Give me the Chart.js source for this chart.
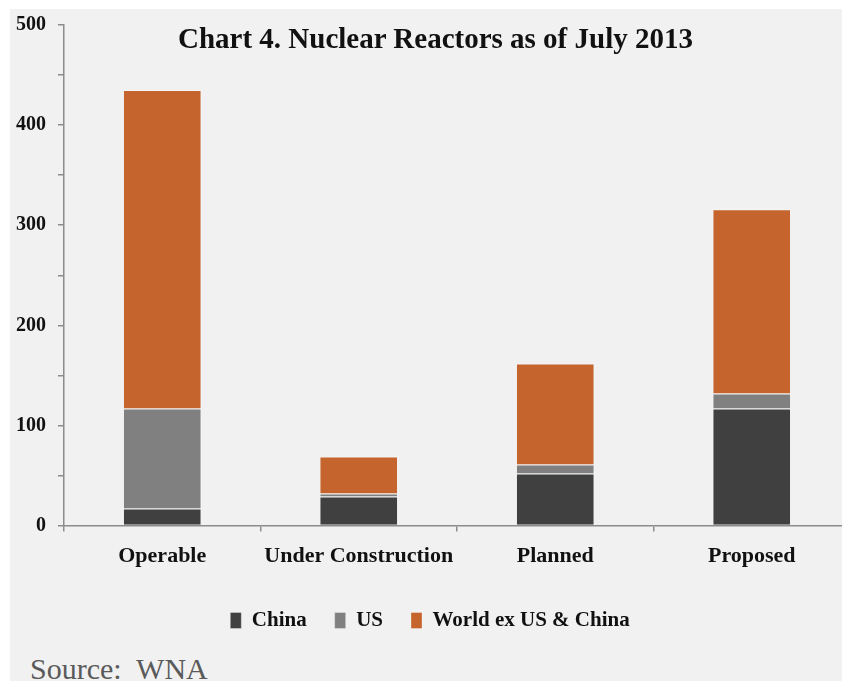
<!DOCTYPE html>
<html>
<head>
<meta charset="utf-8">
<script src="https://cdn.jsdelivr.net/npm/chart.js@4"></script>
<style>
  html, body { margin: 0; padding: 0; background: #fff; width: 842px; height: 681px; overflow: hidden; }
  #panel { position: absolute; left: 10px; top: 9px; width: 832px; height: 672px; background: #f1f1f1; overflow: hidden; }
  #wrap { position: absolute; left: 0; top: -8px; width: 840px; height: 644px; }
  #title { position: absolute; left: 168px; top: 13px; font: bold 29px "Liberation Serif", "Times New Roman", serif; color: #111; white-space: nowrap; }
  #source { position: absolute; left: 20px; top: 643px; font: 30px "Liberation Serif", "Times New Roman", serif; color: #5a5a5a; white-space: nowrap; }
</style>
</head>
<body>
<div id="panel">
  <div id="wrap"><canvas id="myChart"></canvas></div>
  <div id="title">Chart 4. Nuclear Reactors as of July 2013</div>
  <div id="source">Source:&nbsp; WNA</div>
</div>
<script>
// Dados
var categories = ['Operable', 'Under Construction', 'Planned', 'Proposed']
var china = [17, 29, 52, 117]
var us = [100, 3, 9, 15]
var worldExUsChina = [318, 37, 101, 184]
var yTicks = [0, 100, 200, 300, 400, 500]

var serif = '"Liberation Serif", "Times New Roman", serif'

var ctx = document.getElementById('myChart').getContext('2d');
var myChart = new Chart(ctx, {
    type: 'bar',
    data: {
        labels: categories,
        datasets: [
            { label: 'China', data: china, backgroundColor: '#404040', borderColor: 'rgba(255,255,255,0.3)', borderWidth: 1 },
            { label: 'US', data: us, backgroundColor: '#808080', borderColor: 'rgba(255,255,255,0.3)', borderWidth: 1 },
            { label: 'World ex US & China', data: worldExUsChina, backgroundColor: '#c5652d', borderColor: 'rgba(255,255,255,0.3)', borderWidth: 1 }
        ]
    },
    options: {
        responsive: true,
        maintainAspectRatio: false,
        animation: false,
        layout: { padding: { top: 6, bottom: 4, left: 0, right: 0 } },
        datasets: { bar: { barPercentage: 0.4, categoryPercentage: 1 } },
        plugins: {
            tooltip: { enabled: false },
            legend: {
                position: 'bottom',
                labels: {
                    boxWidth: 11,
                    boxHeight: 16,
                    padding: 28,
                    color: '#111',
                    font: { family: serif, size: 21, weight: 'bold' }
                }
            }
        },
        scales: {
            x: {
                stacked: true,
                border: { color: '#8c8c8c', width: 1.5 },
                grid: { drawOnChartArea: false, tickLength: 6, color: '#8c8c8c', lineWidth: 1.5 },
                ticks: { color: '#111', padding: 12, font: { family: serif, size: 22, weight: 'bold' } }
            },
            y: {
                stacked: true,
                min: 0,
                max: 500,
                afterFit: function (scale) { scale.width = 54 },
                border: { color: '#8c8c8c', width: 1.5 },
                grid: { drawOnChartArea: false, tickLength: 6, color: '#8c8c8c', lineWidth: 1.5 },
                ticks: {
                    stepSize: 50,
                    padding: 12,
                    color: '#111',
                    font: { family: serif, size: 20, weight: 'bold' },
                    callback: function (v) { return yTicks.indexOf(v) >= 0 ? v : '' }
                }
            }
        }
    }
});
</script>
</body>
</html>
